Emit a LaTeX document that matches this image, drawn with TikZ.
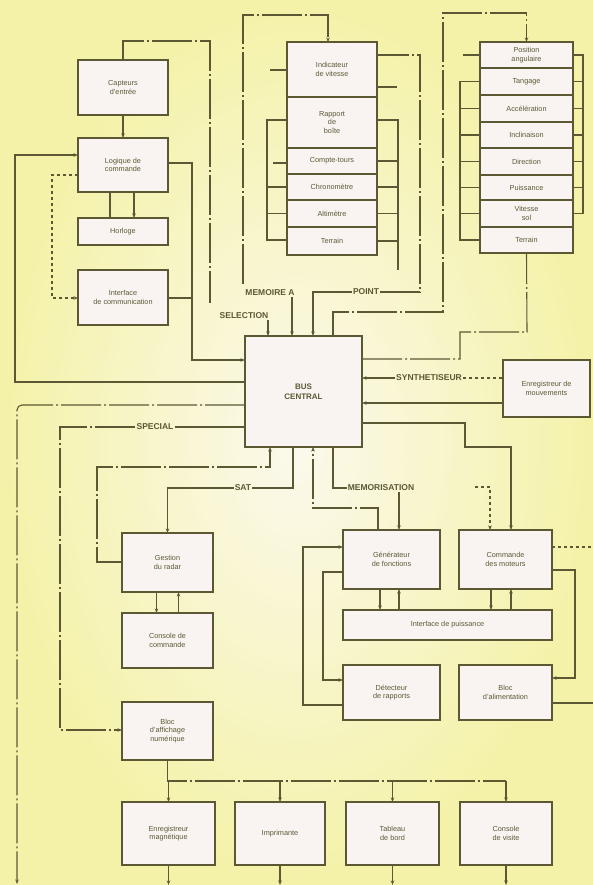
\documentclass[tikz,border=0pt]{standalone}
\usepackage{fontspec}
\setmainfont{Liberation Sans}
\usetikzlibrary{arrows.meta,calc}
\definecolor{bgA}{RGB}{251,249,236}
\definecolor{bgB}{RGB}{244,242,168}
\definecolor{ink}{RGB}{92,88,52}
\definecolor{boxf}{RGB}{249,244,241}
\begin{document}
\begin{tikzpicture}[x=1pt,y=-1pt,
  ln/.style={draw=ink,line width=1.1pt},
  arr/.style={-{Stealth[length=4.5pt,width=3.5pt]}},
  dd/.style={dash pattern=on 40pt off 3pt on 2pt off 3pt},
  box/.style={draw=ink,line width=1.6pt,fill=boxf,inner sep=1pt,outer sep=0pt,
    align=center,text=ink,font=\fontsize{7.3}{8.4}\selectfont},
  lab/.style={text=ink,inner sep=1pt,font=\fontsize{8.5}{9}\selectfont\bfseries}]
\useasboundingbox (0,0) rectangle (593,885);
\shade[inner color=bgA,outer color=bgB] (0,0) rectangle (593,885);

% top-left boxes
\node[box,minimum width=90pt,minimum height=55pt] (b1) at (123,87.5) {Capteurs\\d'entrée};
\node[box,minimum width=90pt,minimum height=54pt] (b2) at (123,165) {Logique de\\commande};
\node[box,minimum width=90pt,minimum height=27pt] (b3) at (123,231.5) {Horloge};
\node[box,minimum width=90pt,minimum height=55pt] (b4) at (123,297.5) {Interface\\de communication};

% column 1
\node[box,minimum width=90pt,minimum height=55pt] (c1a) at (332,69.5) {Indicateur\\de vitesse};
\node[box,minimum width=90pt,minimum height=51pt] (c1b) at (332,122.5) {Rapport\\de\\boîte};
\node[box,minimum width=90pt,minimum height=26pt] (c1c) at (332,161) {Compte-tours};
\node[box,minimum width=90pt,minimum height=26pt] (c1d) at (332,187) {Chronomètre};
\node[box,minimum width=90pt,minimum height=27pt] (c1e) at (332,213.5) {Altimètre};
\node[box,minimum width=90pt,minimum height=28pt] (c1f) at (332,241) {Terrain};
\draw[ink,line width=2.2pt] (c1a.north west) rectangle (c1f.south east);

% column 2
\node[box,minimum width=93pt,minimum height=26pt] (c2a) at (526.5,55) {Position\\angulaire};
\node[box,minimum width=93pt,minimum height=27pt] (c2b) at (526.5,81.5) {Tangage};
\node[box,minimum width=93pt,minimum height=27pt] (c2c) at (526.5,108.5) {Accélération};
\node[box,minimum width=93pt,minimum height=26pt] (c2d) at (526.5,135) {Inclinaison};
\node[box,minimum width=93pt,minimum height=27pt] (c2e) at (526.5,161.5) {Direction};
\node[box,minimum width=93pt,minimum height=25pt] (c2f) at (526.5,187.5) {Puissance};
\node[box,minimum width=93pt,minimum height=27pt] (c2g) at (526.5,213.5) {Vitesse\\sol};
\node[box,minimum width=93pt,minimum height=26pt] (c2h) at (526.5,240) {Terrain};
\draw[ink,line width=2.2pt] (c2a.north west) rectangle (c2h.south east);

% centre and others
\node[box,minimum width=117pt,minimum height=111pt,font=\fontsize{8}{9.5}\selectfont\bfseries] (cb) at (303.5,391.5) {BUS\\CENTRAL};
\node[box,minimum width=87pt,minimum height=57pt] (en) at (546.5,388.5) {Enregistreur de\\mouvements};
\node[box,minimum width=91pt,minimum height=59pt] (g1) at (167.5,562.5) {Gestion\\du radar};
\node[box,minimum width=91pt,minimum height=55pt] (g2) at (167.5,640.5) {Console de\\commande};
\node[box,minimum width=91pt,minimum height=58pt] (g3) at (167.5,731) {Bloc\\d'affichage\\numérique};
\node[box,minimum width=97pt,minimum height=59pt] (r1) at (391.5,559.5) {Générateur\\de fonctions};
\node[box,minimum width=93pt,minimum height=59pt] (r2) at (505.5,559.5) {Commande\\des moteurs};
\node[box,minimum width=209pt,minimum height=30pt] (rw) at (447.5,625) {Interface de puissance};
\node[box,minimum width=97pt,minimum height=55pt] (r3) at (391.5,692.5) {Détecteur\\de rapports};
\node[box,minimum width=93pt,minimum height=55pt] (r4) at (505.5,692.5) {Bloc\\d'alimentation};
\node[box,minimum width=93pt,minimum height=63pt] (d1) at (168.5,833.5) {Enregistreur\\magnétique};
\node[box,minimum width=90pt,minimum height=63pt] (d2) at (280,833.5) {Imprimante};
\node[box,minimum width=93pt,minimum height=63pt] (d3) at (392.5,833.5) {Tableau\\de bord};
\node[box,minimum width=92pt,minimum height=63pt] (d4) at (506,833.5) {Console\\de visite};

% labels
\node[lab] (lsel) at (244,316) {SELECTION};
\node[lab] (lmema) at (270,293) {MEMOIRE A};
\node[lab] (lpt) at (366,292) {POINT};
\node[lab] (lsyn) at (429,378) {SYNTHETISEUR};
\node[lab] (lspec) at (155,427) {SPECIAL};
\node[lab] (lsat) at (243,488) {SAT};
\node[lab] (lmem) at (381,488) {MEMORISATION};

% free ends
\coordinate (selend) at (210,303);
\coordinate (bl) at (17,884);
\coordinate (mtop) at (243,284);
\coordinate (r2in) at (475,487);
\coordinate (rt1) at (593,547);
\coordinate (rt2) at (593,703);
\coordinate (brk) at (398,270);

% top-left connectors
\draw[ln,arr] (b1.south) -- (b2.north);
\draw[ln] ([xshift=-13pt]b2.south) -- ([xshift=-13pt]b3.north);
\draw[ln,arr] ([xshift=11pt]b2.south) -- ([xshift=11pt]b3.north);
\draw[ln,arr,dashed] (b2.west |- 0,175) -- (52,175) -- (52,298) -- (b4.west |- 0,298);
\draw[ln,dd] (b1.north) -- (b1.north |- 0,41) -- (210,41) -- (selend);
\draw[ln,arr] (lsel.south -| 268,0) -- (cb.north -| 268,0);
\draw[ln,arr] (b2.east |- 0,163) -- (192,163) -- (192,360) -- (cb.west |- 0,360);
\draw[ln] (b4.east |- 0,298) -- (192,298);
\draw[ln,arr] (cb.west |- 0,382) -- (15,382) -- (15,155) -- (b2.west |- 0,155);
\draw[ln,arr,rounded corners=5pt,dd] (cb.west |- 0,405) -- (17,405) -- (bl);
\draw[ln] (cb.west |- 0,427) -- (lspec.east);
\draw[ln,arr,dd] (lspec.west) -- (60,427) -- (60,730) -- (g3.west |- 0,730);
\draw[ln,arr,dd] (g1.west |- 0,562) -- (97,562) -- (97,467) -- (270,467) -- (cb.south -| 270,0);
\draw[ln] (cb.south -| 293,0) -- (293,488) -- (lsat.east);
\draw[ln,arr] (lsat.west) -- (g1.north |- lsat.west) -- (g1.north);
\draw[ln,arr] ([xshift=-11pt]g1.south) -- ([xshift=-11pt]g2.north);
\draw[ln,arr] ([xshift=11pt]g2.north) -- ([xshift=11pt]g1.south);

% lower right connectors
\draw[ln,arr,dd] (r1.north -| 378,0) -- (378,508) -- (313,508) -- (cb.south -| 313,0);
\draw[ln] (cb.south -| 333,0) -- (333,488) -- (lmem.west);
\draw[ln,arr] (lmem.south -| 399,0) -- (r1.north -| 399,0);
\draw[ln,arr] (r1.south -| 380,0) -- (rw.north -| 380,0);
\draw[ln,arr] (rw.north -| 399,0) -- (r1.south -| 399,0);
\draw[ln,arr] (r2.south -| 491,0) -- (rw.north -| 491,0);
\draw[ln,arr] (rw.north -| 511,0) -- (r2.south -| 511,0);
\draw[ln,arr] (r3.west |- 0,705) -- (303,705) -- (303,547) -- (r1.west |- 0,547);
\draw[ln,arr] (r1.west |- 0,572) -- (323,572) -- (323,680) -- (r3.west |- 0,680);
\draw[ln,arr] (cb.east |- 0,423) -- (465,423) -- (465,447) -- (511,447) -- (r2.north -| 511,0);
\draw[ln,arr,dashed] (r2in) -- (490,487) -- (r2.north -| 490,0);
\draw[ln,dashed] (r2.east |- 0,547) -- (rt1);
\draw[ln,arr] (r2.east |- 0,570) -- (575,570) -- (575,678) -- (r4.east |- 0,678);
\draw[ln] (r4.east |- 0,703) -- (rt2);

% centre right / top connectors
\draw[ln,dd] (cb.east |- 0,359) -- (460,359) -- (460,332) -- (527,332) -- (c2h.south);
\draw[ln,arr] (lsyn.west) -- (cb.east |- lsyn.west);
\draw[ln,dashed] (lsyn.east) -- (en.west |- lsyn.east);
\draw[ln,arr] (en.west |- 0,403) -- (cb.east |- 0,403);
\draw[ln,arr,dd] (cb.north -| 333,0) -- (333,312) -- (443,312) -- (443,13) -- (c2a.north |- 0,13) -- (c2a.north);
\draw[ln,arr] (lpt.west) -- (313,292) -- (cb.north -| 313,0);
\draw[ln,dd] (lpt.east) -- (420,292) -- (420,55) -- (c1a.east |- 0,55);
\draw[ln,arr] (lmema.south -| 292,0) -- (cb.north -| 292,0);
\draw[ln,arr,dd] (mtop) -- (243,15) -- (328,15) -- (c1a.north -| 328,0);

% column 1 brackets
\draw[ln] (c1a.west |- 0,70) -- (270,70);
\draw[ln] (c1c.west |- 0,163) -- (273,163);
\draw[ln] (c1b.west |- 0,120) -- (267,120) -- (267,240) -- (c1f.west |- 0,240);
\draw[ln] (c1d.west) -- (c1d.west -| 267,0);
\draw[ln] (c1e.west) -- (c1e.west -| 267,0);
\draw[ln] (c1a.east |- 0,87) -- (397,87);
\draw[ln] (c1b.east |- 0,120) -- (398,120) -- (brk);
\foreach \n in {c1c,c1d,c1e,c1f} \draw[ln] (\n.east) -- (\n.east -| 398,0);

% column 2 brackets
\draw[ln] (c2a.west) -- (c2a.west -| 463,0);
\draw[ln] (c2b.west) -- (c2b.west -| 460,0) -- (c2h.west -| 460,0) -- (c2h.west);
\foreach \n in {c2c,c2d,c2e,c2f,c2g} \draw[ln] (\n.west) -- (\n.west -| 460,0);
\draw[ln] (c2a.east) -- (c2a.east -| 583,0) -- (c2g.east -| 583,0) -- (c2g.east);
\foreach \n in {c2b,c2c,c2d,c2e,c2f} \draw[ln] (\n.east) -- (\n.east -| 583,0);

% bottom row
\draw[ln,dd] (g3.south) -- (g3.south |- 0,781) -- (d4.north |- 0,781);
\foreach \n in {d1,d2,d3,d4} {
  \draw[ln,arr] (\n.north |- 0,781) -- (\n.north);
  \draw[ln,arr] (\n.south) -- (\n.south |- 0,885);
}
\end{tikzpicture}
\end{document}
